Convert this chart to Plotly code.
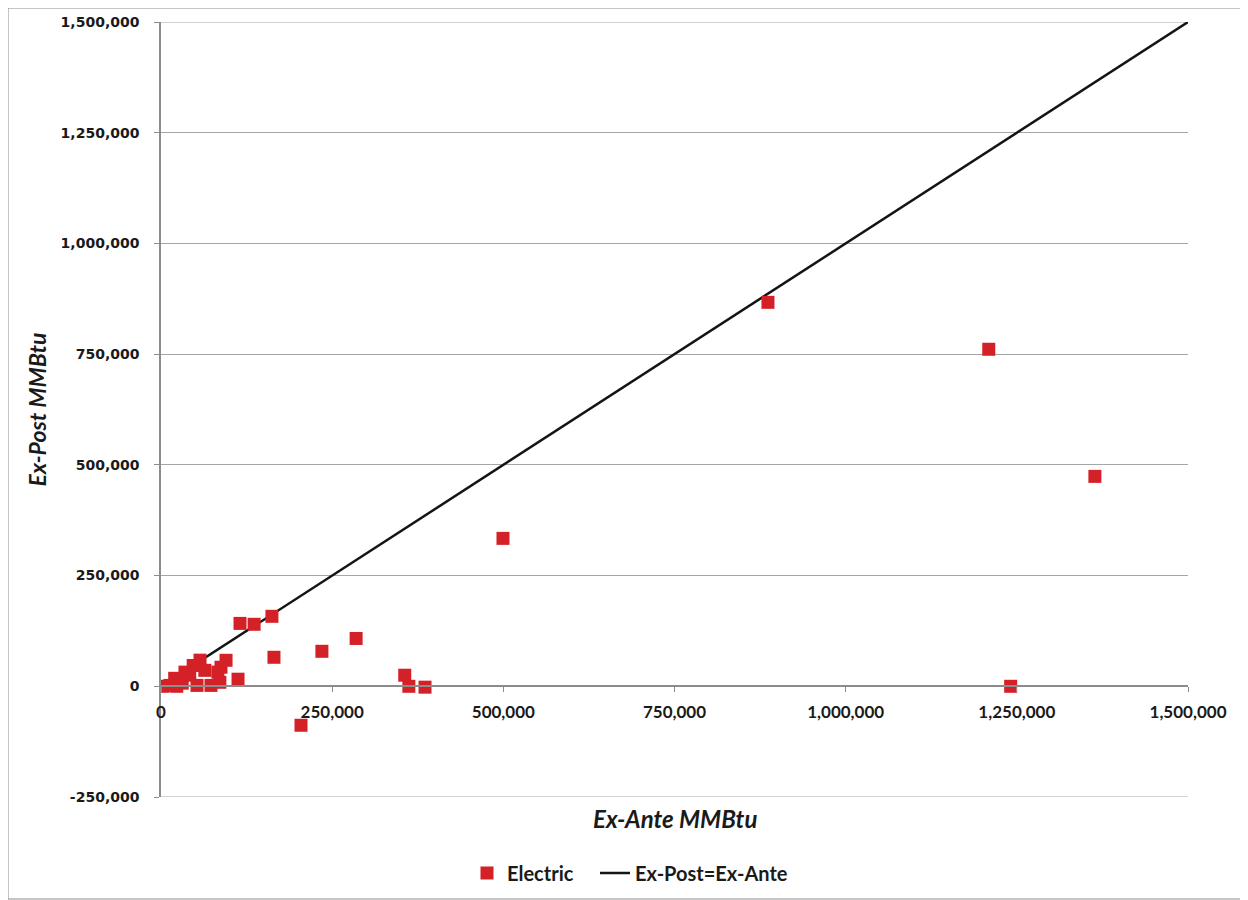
import plotly.graph_objects as go

ex_ante = [886500, 1209000, 1364000, 1241000, 499500, 285000, 235000, 204500,
           356000, 362000, 385600, 162000, 136000, 115400, 165000, 112500,
           95000, 87600, 83000, 86000, 73000, 57000, 64000, 47000, 52600,
           35000, 20000, 23000, 3000, 13000, 42000, 31000]
ex_post = [867000, 761000, 474000, 0, 334000, 108000, 79000, -88000,
           25000, 0, -2000, 158000, 140000, 142000, 65500, 16000,
           58700, 43000, 32000, 9000, 2000, 59000, 36000, 47000, 2000,
           32000, 18000, 0, 0, 2000, 25000, 7000]
line_x = [0, 1500000]
line_y = [0, 1500000]
y_ticks = [-250000, 0, 250000, 500000, 750000, 1000000, 1250000, 1500000]
y_labels = ["-250,000", "0", "250,000", "500,000", "750,000", "1,000,000", "1,250,000", "1,500,000"]
x_ticks = [0, 250000, 500000, 750000, 1000000, 1250000, 1500000]
x_labels = ["0", "250,000", "500,000", "750,000", "1,000,000", "1,250,000", "1,500,000"]

y_min, y_max = -250000, 1500000
W, H = 1240, 892
L, R, T, B = 153, 60, 14, 103
pw, ph = W - L - R, H - T - B
OFF = 8  # page offset of the figure

fig = go.Figure()
fig.add_trace(go.Scatter(
    x=line_x, y=line_y, mode="lines", name="Ex-Post=Ex-Ante",
    line=dict(color="#141414", width=2.5), legend="legend2", xaxis="x2"))
fig.add_trace(go.Scatter(
    x=ex_ante, y=ex_post, mode="markers", name="Electric",
    marker=dict(symbol="square", size=13, color="#d42027",
                line=dict(width=0)), legend="legend", xaxis="x2"))

leg_y = -(873 - OFF - (T + ph)) / ph
leg_font = dict(family="Lato", size=20, color="#1a1a1a", weight="bold")

fig.update_layout(
    width=W, height=H,
    margin=dict(l=L, r=R, t=T, b=B, autoexpand=False),
    paper_bgcolor="white", plot_bgcolor="white",
    showlegend=True,
    legend=dict(orientation="h", x=(467 - L - OFF) / pw, xanchor="left",
                y=leg_y, yanchor="middle", bgcolor="rgba(0,0,0,0)", font=leg_font),
    legend2=dict(orientation="h", x=(595 - L - OFF) / pw, xanchor="left",
                 y=leg_y, yanchor="middle", bgcolor="rgba(0,0,0,0)", font=leg_font),
    xaxis=dict(range=[0, 1500000], showgrid=False, showticklabels=False,
               zeroline=False, showline=False, ticks="", automargin=False),
    xaxis2=dict(range=[0, 1500000], overlaying="x", anchor="free",
                position=(0 - y_min) / (y_max - y_min), automargin=False,
                showgrid=False, zeroline=False, showline=True,
                linecolor="#8c8c8c", linewidth=1.5,
                ticks="outside", ticklen=5, tickcolor="#8c8c8c",
                tickvals=x_ticks, ticktext=x_labels, ticklabelstandoff=6,
                tickfont=dict(family="Lato", size=17, color="#1a1a1a", weight="bold")),
    yaxis=dict(range=[y_min, y_max], tickvals=y_ticks, ticktext=y_labels, automargin=False,
               showgrid=True, gridcolor="#a6a6a6", gridwidth=1,
               zeroline=False, showline=True, linecolor="#8c8c8c", linewidth=1.5,
               ticks="outside", ticklen=5, tickcolor="#8c8c8c", ticklabelstandoff=12,
               tickfont=dict(family="DejaVu Sans", size=14, color="#1a1a1a", weight="bold"),
               title=dict(text="<i>Ex-Post MMBtu</i>", standoff=8,
                          font=dict(family="Lato", size=23, color="#1a1a1a", weight="bold"))),
)

# x-axis title
fig.add_annotation(text="<i>Ex-Ante MMBtu</i>", xref="paper", yref="paper",
                   x=0.5, y=-(818 - OFF - (T + ph)) / ph, yanchor="middle", showarrow=False,
                   font=dict(family="Lato", size=24, color="#1a1a1a", weight="bold"))

# gridlines at the edge ticks
for yv in (y_ticks[0], y_ticks[-1]):
    fig.add_shape(type="line", xref="x2", yref="y", x0=x_ticks[0], x1=x_ticks[-1],
                  y0=yv, y1=yv, line=dict(color="#a6a6a6", width=1), layer="below")

# outer chart frame
fig.add_shape(type="rect", xref="paper", yref="paper",
              x0=-L / pw, x1=1 + (R - 1) / pw, y0=-(B - 1) / ph, y1=1 + T / ph,
              line=dict(color="#8c8c8c", width=1), fillcolor="rgba(0,0,0,0)", layer="below")

fig.write_html("out.html")
